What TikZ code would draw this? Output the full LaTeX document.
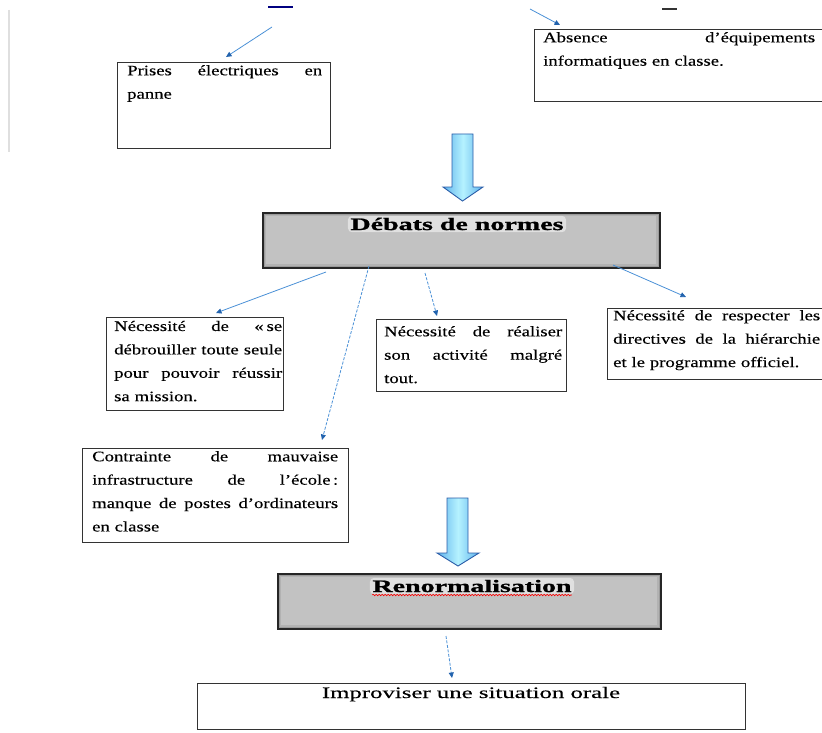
\documentclass[tikz,border=0pt]{standalone}
\usepackage{fontspec}
\setmainfont{Liberation Serif}
\newfontfamily\bodyfont{Liberation Serif}[FakeStretch=1.29, FakeBold=0.3]
\newfontfamily\titlefont{Liberation Serif}[FakeStretch=1.60, FakeBold=1.2]
\newfontfamily\improvfont{Liberation Serif}[FakeStretch=1.55, FakeBold=0.3]
\usetikzlibrary{arrows.meta,calc,decorations.pathmorphing}
\definecolor{graybg}{HTML}{C2C2C2}
\definecolor{conncol}{HTML}{4A90D6}
\definecolor{tipcol}{HTML}{2263AE}
\definecolor{bigedge}{HTML}{2B5DA8}
\definecolor{bigmid}{HTML}{B5F2FF}
\definecolor{bigside}{HTML}{5FB2EC}
\newcommand\jl[2]{\leavevmode\hbox to #1pt{\spaceskip=0.25em plus 1fil\relax\xspaceskip=0.25em plus 1fil\relax #2}}
\begin{document}
\begin{tikzpicture}[x=1pt,y=-1pt,
  box/.style={draw=black!80, line width=1pt, inner sep=0, anchor=north west},
  graybox/.style={draw=black!85, line width=1.5pt, fill=graybg, inner sep=0, anchor=north west,
    path picture={
      \draw[line width=7pt, graybg!92!black] (path picture bounding box.south west) rectangle (path picture bounding box.north east);
      \draw[line width=3.5pt, graybg!80!black] (path picture bounding box.south west) rectangle (path picture bounding box.north east);}},
  txt/.style={inner sep=0, anchor=north west, align=left, font=\bodyfont\fontsize{14.5}{23.4}\selectfont},
  titletxt/.style={inner xsep=2.5pt, inner ysep=2pt, anchor=base, fill=white, fill opacity=0.5, text opacity=1, rounded corners=4pt,
    font=\titlefont\bfseries\fontsize{17.5}{20}\selectfont},
  improvtxt/.style={inner sep=0, anchor=base, font=\improvfont\fontsize{16}{20}\selectfont},
  conn/.style={draw=conncol, line width=0.8pt, -{Triangle[length=5.5pt,width=5pt,color=tipcol]}},
  dconn/.style={conn, dash pattern=on 3pt off 1.5pt},
  bigarrow/.style={draw=bigedge, line width=0.9pt, left color=bigside, right color=bigside, middle color=bigmid}
]
\useasboundingbox (0,0) rectangle (822,733);

% page fragments
\draw[gray!25, line width=1.2pt] (9,10) -- (9,152);
\draw[blue!50!black, line width=1.4pt] (268,7) -- (293,7);
\draw[black!80, line width=1.4pt] (662,9) -- (677,9);

% top boxes
\node[box, minimum width=213pt, minimum height=86pt] (prises) at (117,62) {};
\node[txt, text width=195pt] (prisesT) at (127,65) {\noindent\rule{0pt}{10pt}\jl{195}{Prises électriques en}\\ panne};
\node[box, minimum width=306pt, minimum height=72pt] (absence) at (534,29) {};
\node[txt, text width=272pt] (absenceT) at (543,32) {\noindent\rule{0pt}{10pt}\jl{272}{Absence d’équipements}\\ informatiques en classe.};

\coordinate (s1) at (272,27); \coordinate (e1) at (226,57);
\coordinate (s2) at (530,9);  \coordinate (e2) at (560,25);
\draw[conn] (s1) -- (e1);
\draw[conn] (s2) -- (e2);

% big arrow 1
\draw[bigarrow] (452,134) -- (473,134) -- (473,187) -- (483,187) -- (462.5,201) -- (443,187) -- (452,187) -- cycle;

% Debats
\node[graybox, minimum width=397pt, minimum height=55pt] (debats) at (262,212) {};
\node[titletxt] (debatsT) at (457,230) {Débats de normes};

% middle boxes
\node[box, minimum width=177pt, minimum height=93pt] (necA) at (106,317) {};
\node[txt, text width=168pt] (necAT) at (114,320.7) {\noindent\rule{0pt}{10pt}\jl{168}{Nécessité de «\hspace{3pt}se}\\ \jl{168}{débrouiller toute seule}\\ \jl{168}{pour pouvoir réussir}\\ sa mission.};
\node[box, minimum width=190pt, minimum height=72pt] (necB) at (376,319) {};
\node[txt, text width=178pt] (necBT) at (384,326) {\noindent\rule{0pt}{10pt}\jl{178}{Nécessité de réaliser}\\ \jl{178}{son activité malgré}\\ tout.};
\node[box, minimum width=230pt, minimum height=71pt] (necC) at (607,308) {};
\node[txt, text width=207pt] (necCT) at (613,310) {\noindent\rule{0pt}{10pt}\jl{207}{Nécessité de respecter les}\\ \jl{207}{directives de la hiérarchie}\\ et le programme officiel.};
\node[box, minimum width=266pt, minimum height=94pt] (contr) at (82,448) {};
\node[txt, text width=246pt] (contrT) at (92,451) {\noindent\rule{0pt}{10pt}\jl{246}{Contrainte de mauvaise}\\ \jl{246}{infrastructure de l’école\,:}\\ \jl{246}{manque de postes d’ordinateurs}\\ en classe};

\coordinate (s3) at (326,272); \coordinate (e3) at (216,313);
\coordinate (s4) at (369,266); \coordinate (e4) at (322,440);
\coordinate (s5) at (425,273); \coordinate (e5) at (437,316);
\coordinate (s6) at (613,265); \coordinate (e6) at (686,297);
\draw[conn] (s3) -- (e3);
\draw[dconn] (s4) -- (e4);
\draw[dconn] (s5) -- (e5);
\draw[conn] (s6) -- (e6);

% big arrow 2
\draw[bigarrow] (447,498) -- (468,498) -- (468,553) -- (479,553) -- (458,566) -- (437,553) -- (447,553) -- cycle;

% Renormalisation
\node[graybox, minimum width=383pt, minimum height=55pt] (renorm) at (277,573) {};
\node[titletxt] (renormT) at (472,592) {Renormalisation};
\draw[red, line width=0.6pt, decorate, decoration={snake, amplitude=0.8pt, segment length=3pt}]
  ($(renormT.base west)+(2.5,3)$) -- ($(renormT.base east)+(-2.5,3)$);

\coordinate (s7) at (446,636); \coordinate (e7) at (452,678);
\draw[dconn] (s7) -- (e7);

% Improviser
\node[box, minimum width=548pt, minimum height=46pt] (improv) at (197,683) {};
\node[improvtxt] (improvT) at (471,698) {Improviser une situation orale};
\end{tikzpicture}
\end{document}
